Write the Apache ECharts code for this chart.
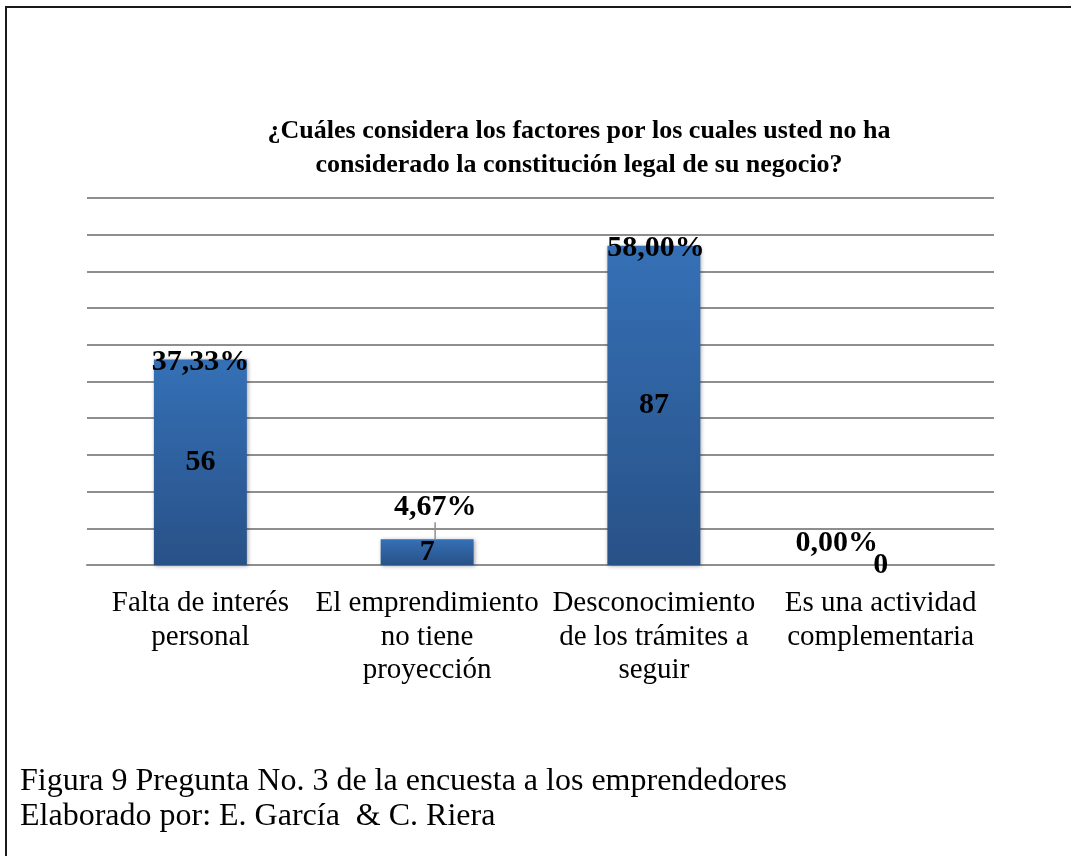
<!DOCTYPE html>
<html>
<head>
<meta charset="utf-8">
<script src="https://cdn.jsdelivr.net/npm/echarts@6/dist/echarts.min.js"></script>
<style>
  html, body { margin: 0; padding: 0; background: #fff; }
  #frame {
    position: absolute; left: 0; top: 0; width: 1071px; height: 856px;
  }
  #edge {
    position: absolute; left: 5px; top: 6px; right: -10px; bottom: -10px;
    border-top: 2px solid #1a1a1a; border-left: 2px solid #1a1a1a;
    pointer-events: none;
  }
  #chart { position: absolute; left: 0; top: 0; width: 1071px; height: 856px; }
</style>
</head>
<body>
<div id="frame">
  <div id="chart"></div>
  <div id="edge"></div>
</div>
<script>
  // categorias del eje x
  const categories = [
    "Falta de interés\npersonal",
    "El emprendimiento\nno tiene\nproyección",
    "Desconocimiento\nde los trámites a\nseguir",
    "Es una actividad\ncomplementaria",
  ];
  // numero de respuestas
  const counts = [56, 7, 87, 0];
  // porcentaje de cada respuesta
  const percents = [37.33, 4.67, 58.0, 0.0];

  // desplazamiento de las etiquetas de porcentaje
  const labelShift = [
    [0, 18],
    [8, -17],
    [2, 18],
    [-44, -7],
  ];

  const serif = "'Liberation Serif', 'Times New Roman', serif";
  const myEcharts = echarts.init(document.getElementById("chart"), null, { renderer: "canvas" });

  const option = {
    backgroundColor: "#fff",
    animation: false,
    title: [
      {
        text: "¿Cuáles considera los factores por los cuales usted no ha\nconsiderado la constitución legal de su negocio?",
        left: 574,
        top: 109,
        textAlign: "center",
        textStyle: {
          fontFamily: serif,
          fontWeight: "bold",
          fontSize: 26,
          lineHeight: 34,
          color: "#000",
        },
      },
      {
        text: "Figura 9 Pregunta No. 3 de la encuesta a los emprendedores\nElaborado por: E. García  & C. Riera",
        left: 15,
        top: 759,
        textStyle: {
          fontFamily: serif,
          fontWeight: "normal",
          fontSize: 32,
          lineHeight: 35,
          color: "#000",
        },
      },
    ],
    grid: {
      left: 87,
      right: 77,
      top: 198,
      bottom: 291,
    },
    xAxis: {
      type: "category",
      data: categories,
      axisTick: { show: false },
      axisLine: { lineStyle: { color: "#8e8e8e", width: 2 } },
      axisLabel: {
        interval: 0,
        margin: 22,
        fontFamily: serif,
        fontSize: 29,
        lineHeight: 33.5,
        color: "#000",
      },
    },
    yAxis: {
      type: "value",
      min: 0,
      max: 100,
      interval: 10,
      axisLabel: { show: false },
      axisLine: { show: false },
      axisTick: { show: false },
      splitLine: { lineStyle: { color: "#8e8e8e", width: 2 } },
    },
    series: [
      {
        type: "bar",
        data: counts,
        barCategoryGap: "59%",
        itemStyle: {
          // degradado de arriba hacia abajo
          color: new echarts.graphic.LinearGradient(0, 0, 0, 1, [
            { offset: 0, color: "#3570b6" },
            { offset: 1, color: "#285187" },
          ]),
          shadowBlur: 4,
          shadowColor: "rgba(0,0,0,0.35)",
          shadowOffsetX: 1,
          shadowOffsetY: 1,
        },
        label: {
          show: true,
          position: "inside",
          fontFamily: serif,
          fontWeight: "bold",
          fontSize: 30,
          color: "#000",
        },
        z: 2,
      },
      {
        // serie transparente para los porcentajes
        type: "bar",
        data: counts.map((v, i) => ({
          value: v,
          labelLine: { show: i === 1 },
        })),
        barGap: "-100%",
        barCategoryGap: "59%",
        itemStyle: { color: "rgba(0,0,0,0)" },
        silent: true,
        label: {
          show: true,
          position: "top",
          distance: 0,
          fontFamily: serif,
          fontWeight: "bold",
          fontSize: 30,
          color: "#000",
          formatter: (p) => percents[p.dataIndex].toFixed(2).replace(".", ",") + "%",
        },
        labelLine: {
          show: false,
          lineStyle: { color: "#8e8e8e", width: 1.5 },
        },
        labelLayout: (p) => ({
          dx: labelShift[p.dataIndex][0],
          dy: labelShift[p.dataIndex][1],
        }),
        z: 3,
      },
    ],
  };

  myEcharts.setOption(option);
</script>
</body>
</html>
